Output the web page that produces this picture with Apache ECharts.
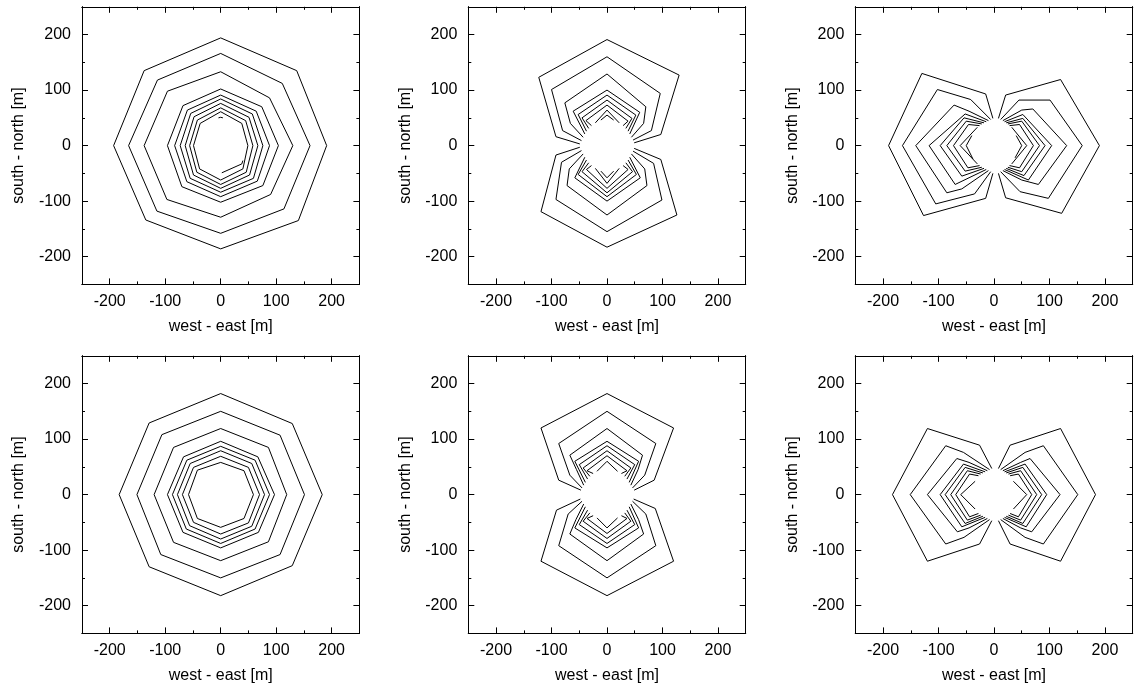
<!DOCTYPE html>
<html>
<head>
<meta charset="utf-8">
<script src="https://cdn.jsdelivr.net/npm/echarts@6/dist/echarts.min.js"></script>
<style>
  html, body { margin: 0; padding: 0; background: #fff; }
  #chart { width: 1134px; height: 686px; }
</style>
</head>
<body>
<div id="chart"></div>
<script>
// Axis extent and tick positions (metres)
const axisMin = -250;
const axisMax = 250;
const majorTicks = [-200, -100, 0, 100, 200];
const minorTicks = [-150, -50, 50, 150];
const xTitle = 'west - east [m]';
const yTitle = 'south - north [m]';

// Contour lines, one polyline per entry, [x, y] in metres
const ringsUpper = [
  [[0,194],[137,135],[191,0],[140,-135],[0,-186],[-135,-134],[-193,0],[-138,135],[0,194]],
  [[0,166],[111,112],[161,0],[114,-114],[0,-158],[-115,-118],[-166,0],[-114,118],[0,166]],
  [[0,133],[88,86],[130,0],[90,-88],[0,-129],[-97,-97],[-138,0],[-96,98],[0,133]],
  [[0,102],[74,70],[104,0],[76,-72],[0,-102],[-70,-74],[-96,0],[-68,72],[0,102]],
  [[0,91],[64,62],[88,0],[66,-64],[0,-92],[-61,-65],[-83,0],[-60,64],[0,91]],
  [[0,84],[57,57],[76,0],[59,-59],[0,-84],[-55,-59],[-73,0],[-54,58],[0,84]],
  [[0,76],[51,51],[67,0],[52,-53],[0,-77],[-49,-53],[-64,0],[-48,52],[0,76]],
  [[0,68],[45,45],[58,0],[46,-48],[0,-70],[-43,-48],[-56,0],[-42,46],[0,68]],
  [[0,61],[38,40],[49,0],[40,-42],[0,-62],[-38,-42],[-49,0],[-37,40],[0,61]],
  [[-4,50],[0,51],[4,50]],
  [[2,-49],[38,-33],[40,-27]]
];

const lobesNSUpper = [
  [[-49,3],[-92,16],[-123,123],[0,191],[130,127],[97,20],[49,5]],
  [[-46,9],[-80,27],[-100,101],[0,160],[96,94],[80,27],[47,10]],
  [[-43,15],[-66,40],[-76,77],[0,129],[70,70],[66,40],[44,15]],
  [[-40,21],[-61,62],[0,100],[59,60],[41,21]],
  [[-37,26],[-52,56],[0,91],[52,55],[38,26]],
  [[-33,31],[-45,50],[0,82],[45,49],[34,31]],
  [[-28,36],[-38,45],[0,73],[38,44],[29,36]],
  [[-21,41],[0,64],[22,41]],
  [[-11,46],[0,55],[12,46]],
  [[-49,-3],[-92,-17],[-119,-119],[0,-183],[126,-125],[97,-25],[49,-5]],
  [[-46,-9],[-82,-30],[-92,-97],[0,-155],[99,-98],[84,-32],[47,-10]],
  [[-43,-15],[-68,-42],[-72,-72],[0,-125],[72,-72],[68,-42],[44,-15]],
  [[-40,-21],[-58,-58],[0,-100],[60,-58],[41,-21]],
  [[-37,-26],[-52,-52],[0,-92],[53,-52],[38,-26]],
  [[-33,-31],[-45,-47],[0,-85],[46,-47],[34,-31]],
  [[-28,-36],[-37,-43],[0,-77],[38,-43],[29,-36]],
  [[-21,-41],[0,-68],[22,-41]],
  [[-11,-46],[0,-58],[12,-46]]
];

const lobesEWUpper = [
  [[-2,49],[-15,93],[-130,130],[-190,0],[-127,-126],[-15,-95],[-2,-50]],
  [[-6,47],[-42,83],[-102,101],[-165,0],[-105,-105],[-35,-87],[-6,-47]],
  [[-10,45],[-45,62],[-72,73],[-141,0],[-85,-85],[-58,-78],[-10,-45]],
  [[-14,43],[-52,57],[-117,0],[-70,-70],[-14,-43]],
  [[-18,41],[-54,50],[-97,0],[-58,-55],[-18,-41]],
  [[-22,39],[-50,44],[-85,0],[-52,-46],[-22,-39]],
  [[-26,36],[-46,38],[-73,0],[-47,-40],[-26,-36]],
  [[-30,33],[-61,0],[-30,-33]],
  [[-40,18],[-50,0],[-38,-24]],
  [[8,49],[21,91],[120,119],[190,0],[122,-122],[21,-94],[8,-50]],
  [[12,47],[45,82],[101,82],[159,0],[98,-95],[47,-83],[12,-47]],
  [[16,45],[50,64],[70,66],[131,0],[80,-70],[50,-62],[16,-45]],
  [[19,43],[52,56],[104,0],[62,-62],[19,-43]],
  [[22,41],[52,49],[92,0],[54,-54],[22,-41]],
  [[25,39],[50,44],[82,0],[50,-47],[25,-39]],
  [[28,36],[46,38],[71,0],[46,-40],[28,-36]],
  [[32,33],[59,0],[32,-33]],
  [[40,18],[50,0],[38,-22]]
];

const ringsLower = [
  [[0,182],[129,128],[183,0],[129,-128],[0,-182],[-129,-130],[-183,0],[-129,129],[0,182]],
  [[0,150],[107,107],[151,0],[107,-108],[0,-150],[-108,-108],[-151,0],[-106,108],[0,150]],
  [[0,119],[86,85],[119,0],[86,-85],[0,-119],[-85,-86],[-120,0],[-85,85],[0,119]],
  [[0,96],[67,68],[97,0],[68,-68],[0,-96],[-68,-68],[-96,0],[-67,68],[0,96]],
  [[0,87],[62,62],[88,0],[62,-62],[0,-88],[-62,-62],[-87,0],[-61,62],[0,87]],
  [[0,79],[56,56],[79,0],[56,-57],[0,-80],[-56,-56],[-78,0],[-55,56],[0,79]],
  [[0,69],[50,49],[70,0],[50,-51],[0,-71],[-49,-50],[-69,0],[-49,49],[0,69]],
  [[0,58],[42,43],[59,0],[42,-43],[0,-59],[-42,-43],[-58,0],[-42,44],[0,58]]
];

const lobesNSLower = [
  [[-47,8],[-87,26],[-119,120],[0,182],[120,120],[85,26],[49,8]],
  [[-45,12],[-67,35],[-87,92],[0,150],[88,92],[68,35],[46,12]],
  [[-42,17],[-55,45],[-67,71],[0,119],[64,71],[56,45],[43,17]],
  [[-39,22],[-58,60],[0,96],[57,60],[40,22]],
  [[-35,28],[-50,54],[0,88],[50,54],[36,28]],
  [[-31,33],[-43,48],[0,79],[43,48],[32,33]],
  [[-25,38],[-36,43],[0,70],[36,43],[26,38]],
  [[-18,42],[0,60],[19,42]],
  [[-48,-8],[-91,-28],[-119,-120],[0,-182],[120,-120],[87,-25],[48,-8]],
  [[-45,-12],[-70,-35],[-87,-92],[0,-150],[88,-92],[70,-35],[46,-12]],
  [[-42,-17],[-56,-45],[-67,-71],[0,-119],[66,-71],[57,-45],[43,-17]],
  [[-39,-22],[-58,-60],[0,-96],[57,-60],[40,-22]],
  [[-35,-28],[-50,-54],[0,-88],[50,-54],[36,-28]],
  [[-31,-33],[-43,-48],[0,-79],[43,-48],[32,-33]],
  [[-25,-38],[-36,-43],[0,-70],[36,-43],[26,-38]],
  [[-18,-42],[0,-60],[19,-42]]
];

const lobesEWLower = [
  [[-4,47],[-26,89],[-120,119],[-183,0],[-120,-120],[-26,-89],[-4,-47]],
  [[-8,45],[-55,76],[-87,88],[-151,0],[-87,-89],[-54,-77],[-8,-45]],
  [[-12,43],[-45,58],[-67,65],[-120,0],[-66,-67],[-45,-60],[-12,-43]],
  [[-16,41],[-55,55],[-97,0],[-58,-58],[-16,-41]],
  [[-20,39],[-52,49],[-88,0],[-52,-52],[-20,-39]],
  [[-24,37],[-48,43],[-78,0],[-48,-46],[-24,-37]],
  [[-28,34],[-44,37],[-69,0],[-44,-40],[-28,-34]],
  [[-34,24],[-60,0],[-34,-26]],
  [[8,47],[29,89],[120,119],[183,0],[120,-120],[29,-89],[8,-47]],
  [[12,45],[56,76],[89,88],[151,0],[89,-89],[56,-77],[12,-45]],
  [[16,43],[48,58],[65,65],[119,0],[68,-67],[48,-60],[16,-43]],
  [[19,41],[56,55],[95,0],[58,-58],[19,-41]],
  [[22,39],[52,49],[86,0],[52,-52],[22,-39]],
  [[26,37],[48,43],[77,0],[48,-46],[26,-37]],
  [[29,34],[44,37],[68,0],[44,-40],[29,-34]],
  [[35,24],[59,0],[35,-26]]
];

const panels = [ringsUpper, lobesNSUpper, lobesEWUpper, ringsLower, lobesNSLower, lobesEWLower];

// Panel frames in pixels
const frameLefts = [82, 468.3, 855.3];
const frameTops = [6.8, 355.8];
const frameW = 277.4;
const frameH = 277.6;

const font = "'Liberation Sans', Arial, Helvetica, sans-serif";
const ink = '#000';
const fontSize = 16;

const grids = [];
const xAxes = [];
const yAxes = [];
const series = [];

function axisBase(gridIndex, position, ticks, len, labelMargin, name) {
  return {
    type: 'value',
    gridIndex,
    position,
    min: axisMin,
    max: axisMax,
    interval: 50,
    splitLine: { show: false },
    axisLine: { show: true, onZero: false, lineStyle: { color: ink, width: 1 } },
    axisTick: { show: true, inside: true, length: len, customValues: ticks,
                lineStyle: { color: ink, width: 1 } },
    axisLabel: labelMargin != null
      ? { show: true, customValues: majorTicks, color: ink, fontSize,
          fontFamily: font, margin: labelMargin }
      : { show: false },
    name: name || '',
    nameLocation: 'middle',
    nameTextStyle: { color: ink, fontSize, fontFamily: font },
    silent: true
  };
}

panels.forEach((lines, i) => {
  const col = i % 3;
  const row = Math.floor(i / 3);
  grids.push({ left: frameLefts[col], top: frameTops[row], width: frameW, height: frameH,
               containLabel: false });

  const xb = axisBase(i, 'bottom', majorTicks, 6, 9, xTitle);
  xb.nameGap = 34;
  xAxes.push(xb);
  xAxes.push(axisBase(i, 'bottom', minorTicks, 3, null));
  xAxes.push(axisBase(i, 'top', majorTicks, 6, null));
  xAxes.push(axisBase(i, 'top', minorTicks, 3, null));

  const yl = axisBase(i, 'left', majorTicks, 6, 11, yTitle);
  yl.nameGap = 55;
  yl.nameRotate = 90;
  yAxes.push(yl);
  yAxes.push(axisBase(i, 'left', minorTicks, 3, null));
  yAxes.push(axisBase(i, 'right', majorTicks, 6, null));
  yAxes.push(axisBase(i, 'right', minorTicks, 3, null));

  lines.forEach(pts => {
    series.push({
      type: 'line',
      xAxisIndex: i * 4,
      yAxisIndex: i * 4,
      data: pts,
      showSymbol: false,
      symbol: 'none',
      silent: true,
      clip: true,
      lineStyle: { color: ink, width: 1 }
    });
  });
});

const chart = echarts.init(document.getElementById('chart'), null, { renderer: 'canvas' });
chart.setOption({
  animation: false,
  backgroundColor: '#fff',
  grid: grids,
  xAxis: xAxes,
  yAxis: yAxes,
  series
});
</script>
</body>
</html>
